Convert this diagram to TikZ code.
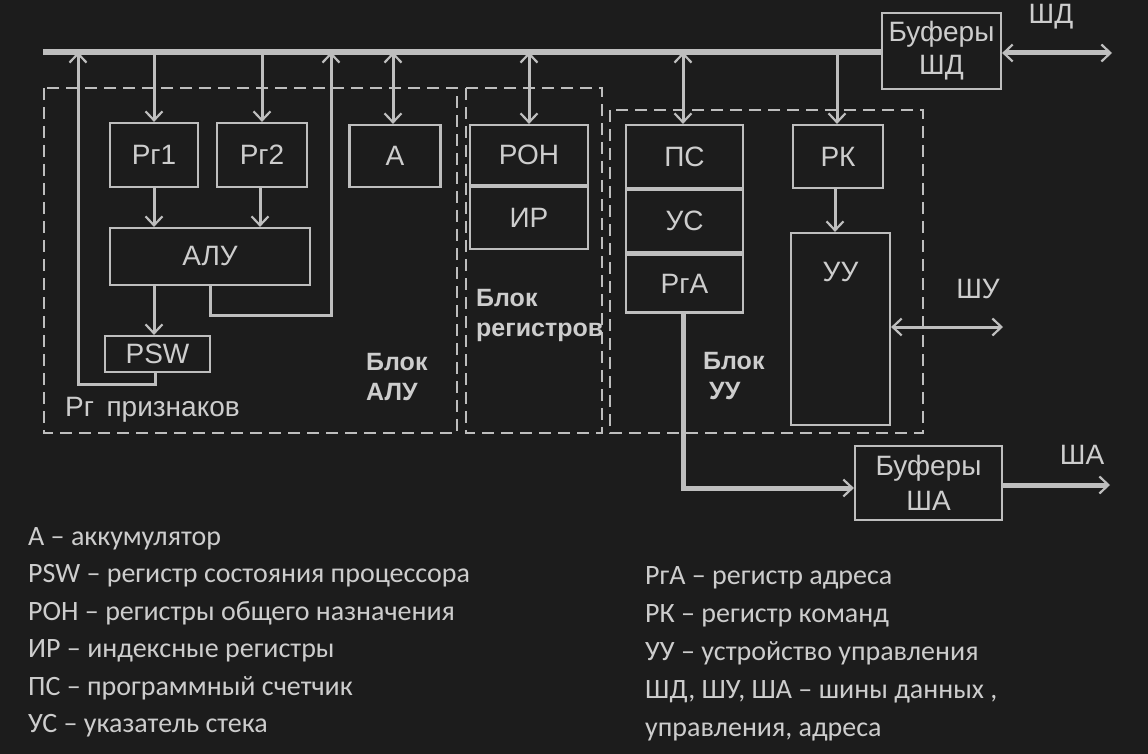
\documentclass[tikz,border=0pt]{standalone}
\usepackage{fontspec}
\setmainfont{Liberation Sans}
\newfontfamily\legendfont{Carlito}
\usetikzlibrary{arrows.meta}
\definecolor{bg}{HTML}{1C1C1C}
\definecolor{fg}{HTML}{BEBEBE}
\definecolor{tx}{HTML}{CDCDCD}
\newcommand{\dgfont}{\fontsize{28}{33}\selectfont}
\newcommand{\blkfont}{\fontsize{25}{30}\selectfont\bfseries}
\newcommand{\lgfont}{\legendfont\fontsize{28}{31}\selectfont}
\begin{document}
\begin{tikzpicture}[x=1pt,y=-1pt,
  >={Straight Barb[length=9pt,width=17pt,line width=2.2pt]},
  box/.style={draw=fg, line width=2.2pt, inner sep=0pt, text=tx, font=\dgfont, align=center},
  blk/.style={draw=fg, line width=1.8pt, dash pattern=on 12pt off 7pt},
  conn/.style={draw=fg, line width=3pt},
  bus/.style={draw=fg, line width=5.5pt},
  fat/.style={draw=fg, line width=5pt},
  lbl/.style={text=tx, font=\dgfont, inner sep=0pt},
  blab/.style={text=tx, font=\blkfont, inner sep=0pt, align=left},
  leg/.style={text=tx, font=\lgfont, inner sep=0pt, anchor=base west}
]
\useasboundingbox (0,0) rectangle (1148,754);
\fill[bg] (0,0) rectangle (1148,754);

% dashed blocks
\draw[blk] (44,88) rectangle (457,433);
\draw[blk] (466,88) rectangle (602,433);
\draw[blk] (610,110) rectangle (923,433);

% ALU block
\node[box, minimum width=88pt, minimum height=64pt] (rg1) at (154,155) {Рг1};
\node[box, minimum width=90pt, minimum height=64pt] (rg2) at (262,155) {Рг2};
\node[box, minimum width=91pt, minimum height=62pt] (acc) at (395,156) {А};
\node[box, minimum width=200pt, minimum height=57pt] (alu) at (210,256.5) {АЛУ};
\node[box, minimum width=105pt, minimum height=36pt] (psw) at (157.5,354) {PSW};

% register block
\node[box, minimum width=118pt, minimum height=60pt] (ron) at (529,155) {РОН};
\node[box, minimum width=118pt, minimum height=62pt, anchor=north] (ir) at (ron.south) {ИР};

% control block
\node[box, minimum width=117pt, minimum height=63pt] (pc) at (684.5,156.5) {ПС};
\node[box, minimum width=117pt, minimum height=62pt, anchor=north] (sp) at (pc.south) {УС};
\node[box, minimum width=117pt, minimum height=58pt, anchor=north] (rga) at (sp.south) {РгА};
\node[box, minimum width=90pt, minimum height=63pt] (rk) at (838,156.5) {РК};
\node[box, minimum width=99pt, minimum height=192pt] (uu) at (840.5,329) {};
\node[lbl, anchor=north] (uut) at ([yshift=-30pt]uu.north) {УУ};

% buffers
\node[box, minimum width=119pt, minimum height=76pt] (bufd) at (941.5,51) {Буферы\\[0pt]ШД};
\node[box, minimum width=147pt, minimum height=74pt] (bufa) at (928.5,483) {Буферы\\[2pt]ША};

% labels
\node[lbl] (shd) at (1051,17) {ШД};
\node[lbl] (shu) at (978,289) {ШУ};
\node[lbl] (sha) at (1082,455) {ША};
\node[lbl, anchor=west] (prz) at (65,410) {Рг\, признаков};
\node[blab, anchor=west] (balu) at (366,377) {Блок\\АЛУ};
\node[blab, anchor=west] (breg) at (476,315) {Блок\\регистров};
\node[blab, anchor=west] (buu) at (703,376) {Блок\\\hspace{6pt}УУ};

% bus
\coordinate (busL) at (43,52);
\draw[bus] (busL) -- (bufd.west |- busL);

% connectors from bus
\draw[conn,->] (rg1.north |- busL) -- (rg1.north);
\draw[conn,->] (rg2.north |- busL) -- (rg2.north);
\draw[conn,<->] ([xshift=-2pt]acc.north |- busL) -- ([xshift=-2pt]acc.north);
\draw[conn,<->] (ron.north |- busL) -- (ron.north);
\draw[conn,<->] ([xshift=-1.5pt]pc.north |- busL) -- ([xshift=-1.5pt]pc.north);
\draw[conn,->] ([xshift=-1pt]rk.north |- busL) -- ([xshift=-1pt]rk.north);

% internal ALU connectors
\draw[conn,->] (rg1.south) -- (rg1.south |- alu.north);
\draw[conn,->] ([xshift=-2pt]rg2.south) -- ([xshift=-2pt]rg2.south |- alu.north);
\draw[conn,->] (rg1.south |- alu.south) -- (rg1.south |- psw.north);
\coordinate (aluturn) at (331,315);
\draw[conn,->] (alu.south) |- (aluturn) -- (aluturn |- busL);
\coordinate (pswturn) at (78,384);
\draw[conn,->] ([xshift=-2.5pt]psw.south) |- (pswturn) -- (pswturn |- busL);

% control connectors
\draw[conn,->] ([xshift=-3pt]rk.south) -- ([xshift=-3pt]rk.south |- uu.north);
\draw[fat,->] ([xshift=-1.5pt]rga.south) |- ([yshift=-5pt]bufa.west);

% external buses
\coordinate (shdend) at (1112,53);
\draw[fat,<->] (bufd.east |- shdend) -- (shdend);
\coordinate (shuend) at (1003,327);
\draw[conn,<->] (uu.east |- shuend) -- (shuend);
\coordinate (shaend) at (1110,485);
\draw[fat,->] (bufa.east |- shaend) -- (shaend);

% legend
\node[leg] (l1) at (28,545) {А – аккумулятор};
\node[leg] (l2) at (28,582.5) {PSW – регистр состояния процессора};
\node[leg] (l3) at (28,620) {РОН – регистры общего назначения};
\node[leg] (l4) at (28,657.5) {ИР – индексные регистры};
\node[leg] (l5) at (28,695) {ПС – программный счетчик};
\node[leg] (l6) at (28,732.5) {УС – указатель стека};
\node[leg] (r1) at (645,584) {РгА – регистр адреса};
\node[leg] (r2) at (645,622) {РК – регистр команд};
\node[leg] (r3) at (645,660) {УУ – устройство управления};
\node[leg] (r4) at (645,698) {ШД, ШУ, ША – шины данных ,};
\node[leg] (r5) at (645,736) {управления, адреса};
\end{tikzpicture}
\end{document}
